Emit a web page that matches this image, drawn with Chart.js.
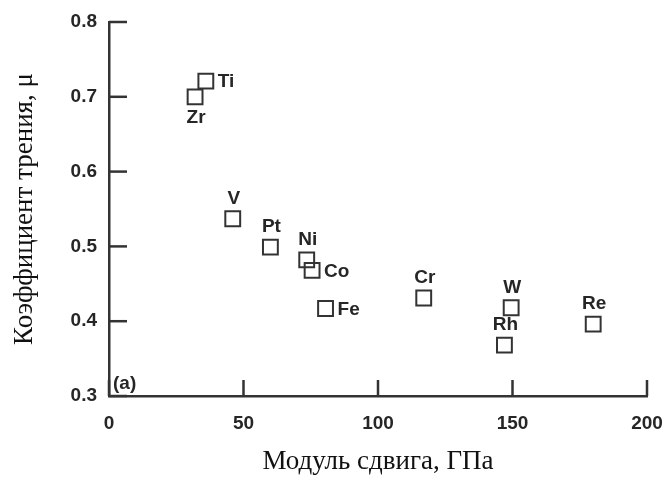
<!DOCTYPE html>
<html>
<head>
<meta charset="utf-8">
<script src="https://cdn.jsdelivr.net/npm/chart.js@4.4.0/dist/chart.umd.min.js"></script>
<style>
  body { margin: 0; background: #fff; }
  #wrap { width: 670px; height: 479px; }
</style>
</head>
<body>
<div id="wrap"><canvas id="myScatterChart" width="670" height="479"></canvas></div>
<script>
// metals and their values
var metals = ['Ti', 'Zr', 'V', 'Pt', 'Ni', 'Co', 'Fe', 'Cr', 'W', 'Rh', 'Re'];
var shearModulus = [36, 32, 46, 60, 73.5, 75.5, 80.5, 117, 149.5, 147, 180];
var friction = [0.721, 0.700, 0.537, 0.499, 0.482, 0.468, 0.417, 0.431, 0.418, 0.368, 0.396];
var xTicks = [0, 50, 100, 150, 200];
var yTicks = [0.3, 0.4, 0.5, 0.6, 0.7, 0.8];

var points = [];
for (var i = 0; i < metals.length; i++) {
	points.push({x: shearModulus[i], y: friction[i], label: metals[i]});
}

// where each label sits relative to its square
var labelSide = {Ti: 'right', Zr: 'below', Co: 'right', Fe: 'right'};

var inkColor = '#262626';

var labelsPlugin = {
	id: 'pointLabels',
	afterDraw: function(chart) {
		var c = chart.ctx;
		var xs = chart.scales.x, ys = chart.scales.y;
		var area = chart.chartArea;
		c.save();
		c.strokeStyle = '#333';
		c.lineWidth = 2.5;
		// inward tick marks
		xs.ticks.forEach(function(t) {
			var px = xs.getPixelForValue(t.value);
			c.beginPath();
			c.moveTo(px, area.bottom);
			c.lineTo(px, area.bottom - 16);
			c.stroke();
		});
		ys.ticks.forEach(function(t) {
			var py = ys.getPixelForValue(t.value);
			c.beginPath();
			c.moveTo(area.left, py);
			c.lineTo(area.left + 18, py);
			c.stroke();
		});
		// metal names
		c.fillStyle = inkColor;
		c.font = 'bold 19px "Liberation Sans", Arial, sans-serif';
		c.textBaseline = 'middle';
		points.forEach(function(p) {
			var px = xs.getPixelForValue(p.x);
			var py = ys.getPixelForValue(p.y);
			var side = labelSide[p.label] || 'above';
			if (side === 'right') {
				c.textAlign = 'left';
				c.fillText(p.label, px + 12, py + 1);
			} else if (side === 'below') {
				c.textAlign = 'center';
				c.fillText(p.label, px + 1, py + 21);
			} else {
				c.textAlign = 'center';
				c.fillText(p.label, px + 1, py - 20);
			}
		});
		c.textAlign = 'left';
		c.fillText('(a)', area.left + 4, area.bottom - 12);
		c.restore();
	}
};

var ctx = document.getElementById('myScatterChart').getContext('2d');
var myScatterChart = new Chart(ctx, {

	type: 'scatter',

	data: {
		datasets: [{
			label: '',
			data: points,
			pointStyle: 'rect',
			pointRadius: 10.5,
			pointHoverRadius: 10.5,
			borderWidth: 2,
			borderColor: '#333',
			backgroundColor: 'rgba(0,0,0,0)'
		}]
	},

	options: {
		responsive: false,
		animation: false,
		layout: {
			padding: {left: 0, top: 22, right: 23, bottom: 0}
		},
		plugins: {
			legend: { display: false },
			tooltip: { enabled: false }
		},
		scales: {
			x: {
				type: 'linear',
				min: 0,
				max: 200,
				afterBuildTicks: function(s) { s.ticks = xTicks.map(function(v) { return {value: v}; }); },
				afterFit: function(s) { s.height = 83; s.paddingRight = 0; s.paddingLeft = 0; },
				ticks: {
					color: inkColor,
					padding: 16,
					font: { family: '"Liberation Sans", Arial, sans-serif', size: 19, weight: 'bold' }
				},
				grid: { drawOnChartArea: false, drawTicks: false },
				border: { display: true, color: '#333', width: 2.5 },
				title: {
					display: true,
					text: 'Модуль сдвига, ГПа',
					color: '#111',
					padding: {top: 0, bottom: 1},
					font: { family: '"Liberation Serif", "Times New Roman", serif', size: 27 }
				}
			},
			y: {
				type: 'linear',
				min: 0.3,
				max: 0.8,
				afterBuildTicks: function(s) { s.ticks = yTicks.map(function(v) { return {value: v}; }); },
				afterFit: function(s) { s.width = 109; s.paddingTop = 0; s.paddingBottom = 0; },
				ticks: {
					color: inkColor,
					padding: 12,
					callback: function(v) { return Number(v).toFixed(1); },
					font: { family: '"Liberation Sans", Arial, sans-serif', size: 19, weight: 'bold' }
				},
				grid: { drawOnChartArea: false, drawTicks: false },
				border: { display: true, color: '#333', width: 2.5 },
				title: {
					display: true,
					text: 'Коэффициент трения, μ',
					color: '#111',
					padding: {top: 9, bottom: 0},
					font: { family: '"Liberation Serif", "Times New Roman", serif', size: 27 }
				}
			}
		}
	},

	plugins: [labelsPlugin]
});
</script>
</body>
</html>
